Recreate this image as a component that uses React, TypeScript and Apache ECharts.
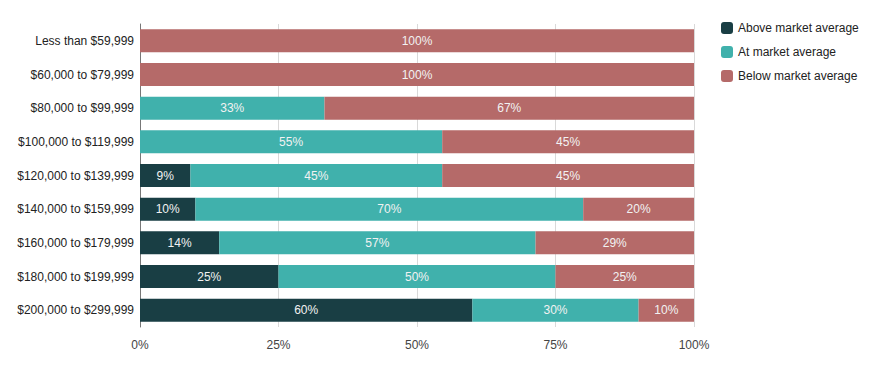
import React, { useEffect, useRef } from "react";
import * as echarts from "echarts";

const categories = [
  "Less than $59,999",
  "$60,000 to $79,999",
  "$80,000 to $99,999",
  "$100,000 to $119,999",
  "$120,000 to $139,999",
  "$140,000 to $159,999",
  "$160,000 to $179,999",
  "$180,000 to $199,999",
  "$200,000 to $299,999",
];
const aboveValues = [0, 0, 0, 0, 9.1, 10, 14.3, 25, 60];
const atValues = [0, 0, 33.3, 54.55, 45.45, 70, 57.1, 50, 30];
const belowValues = [100, 100, 66.7, 45.45, 45.45, 20, 28.6, 25, 10];
const xTicks = [0, 25, 50, 75, 100];

const COLORS = ["#193e44", "#40b1ac", "#b56a69"];
const FONT = "Arial, 'Liberation Sans', sans-serif";

export default function App() {
  const ref = useRef<HTMLDivElement>(null);
  useEffect(() => {
    document.body.style.margin = "0";
    const chart = echarts.init(ref.current!, null, { renderer: "svg" });
    const mk = (name: string, data: number[], color: string) => ({
      name,
      type: "bar",
      stack: "total",
      data,
      barWidth: 23,
      itemStyle: { color },
      label: {
        show: true,
        position: "inside",
        color: "#f2f2f2",
        fontSize: 12,
        fontFamily: FONT,
        formatter: (p: any) => (p.value > 0 ? Math.round(p.value) + "%" : ""),
      },
    });
    chart.setOption({
      animation: false,
      textStyle: { fontFamily: FONT },
      grid: { left: 140, right: 181, top: 24, bottom: 44 },
      legend: {
        orient: "vertical",
        left: 716,
        top: 17,
        itemWidth: 12,
        itemHeight: 12,
        itemGap: 12,
        icon: "roundRect",
        textStyle: { color: "#222", fontSize: 12, fontFamily: FONT },
        data: ["Above market average", "At market average", "Below market average"],
      },
      xAxis: {
        type: "value",
        min: 0,
        max: 100,
        interval: 25,
        axisLine: { show: false },
        axisTick: { show: false },
        splitLine: { lineStyle: { color: "#d9d9d9" } },
        axisLabel: {
          color: "#444",
          fontSize: 12,
          fontFamily: FONT,
          margin: 12,
          formatter: (v: number) => (xTicks.includes(v) ? v + "%" : ""),
        },
      },
      yAxis: {
        type: "category",
        data: categories,
        inverse: true,
        axisTick: { show: false },
        axisLine: { lineStyle: { color: "#777" } },
        axisLabel: { color: "#222", fontSize: 12, fontFamily: FONT, margin: 6 },
      },
      series: [
        mk("Above market average", aboveValues, COLORS[0]),
        mk("At market average", atValues, COLORS[1]),
        mk("Below market average", belowValues, COLORS[2]),
      ],
    });
    return () => chart.dispose();
  }, []);
  return <div ref={ref} style={{ width: 875, height: 371 }} />;
}
